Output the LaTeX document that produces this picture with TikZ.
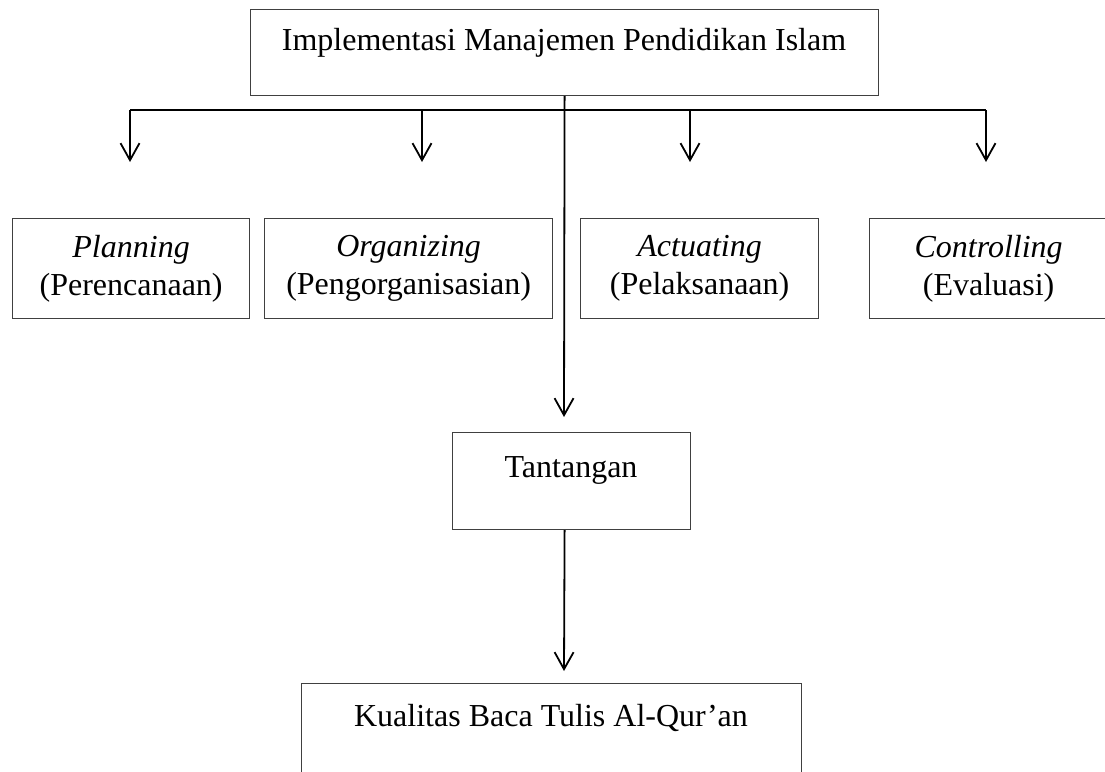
\documentclass[tikz,border=0pt]{standalone}
\usepackage{fontspec}
\setmainfont{Liberation Serif}
\usetikzlibrary{arrows.meta}
\begin{document}
\begin{tikzpicture}[x=1pt,y=-1pt,
  box/.style={draw=black!75,line width=1.2pt,rectangle,inner sep=0pt,anchor=north west},
  lbl/.style={font=\fontsize{32}{38}\selectfont,inner sep=0pt,align=center},
  conn/.style={line width=1.8pt,draw=black},
  arr/.style={conn,-{Straight Barb[length=17pt,width=19pt]}}]
\useasboundingbox (0,0) rectangle (1105,771);
\clip (0,0) rectangle (1105,771);
\fill[white] (0,0) rectangle (1105,771);

% boxes
\node[box,minimum width=628pt,minimum height=86pt] (top) at (250,9) {};
\node[lbl,anchor=base] (topt) at (564,50) {Implementasi Manajemen Pendidikan Islam};

\node[box,lbl,minimum width=237pt,minimum height=100pt] (plan) at (12,218) {\textit{Planning}\\(Perencanaan)};
\node[box,lbl,minimum width=288pt,minimum height=100pt] (org) at (264,218) {\textit{Organizing}\\(Pengorganisasian)};
\node[box,lbl,minimum width=238pt,minimum height=100pt] (act) at (580,218) {\textit{Actuating}\\(Pelaksanaan)};
\node[box,lbl,minimum width=238pt,minimum height=100pt] (ctl) at (869,218) {\textit{Controlling}\\(Evaluasi)};

\node[box,minimum width=238pt,minimum height=97pt] (tan) at (452,432) {};
\node[lbl,anchor=base] (tant) at (571,477) {Tantangan};

\node[box,minimum width=500pt,minimum height=100pt] (kual) at (301,683) {};
\node[lbl,anchor=base] (kualt) at (551,726) {Kualitas Baca Tulis Al-Qur’an};

% connector points
\coordinate (h1) at (130,110);
\coordinate (h2) at (422,110);
\coordinate (h3) at (690,110);
\coordinate (h4) at (986,110);
\coordinate (d1) at (130,162);
\coordinate (d2) at (422,162);
\coordinate (d3) at (690,162);
\coordinate (d4) at (986,162);
\coordinate (t0) at (564,417);
\coordinate (b0) at (564,671);

\draw[conn] (h1) -- (h4);
\draw[arr] (h1) -- (d1);
\draw[arr] (h2) -- (d2);
\draw[arr] (h3) -- (d3);
\draw[arr] (h4) -- (d4);
\draw[arr] (top.south) -- (t0);
\draw[arr] (tan.south -| top.south) -- (b0);
\end{tikzpicture}
\end{document}
